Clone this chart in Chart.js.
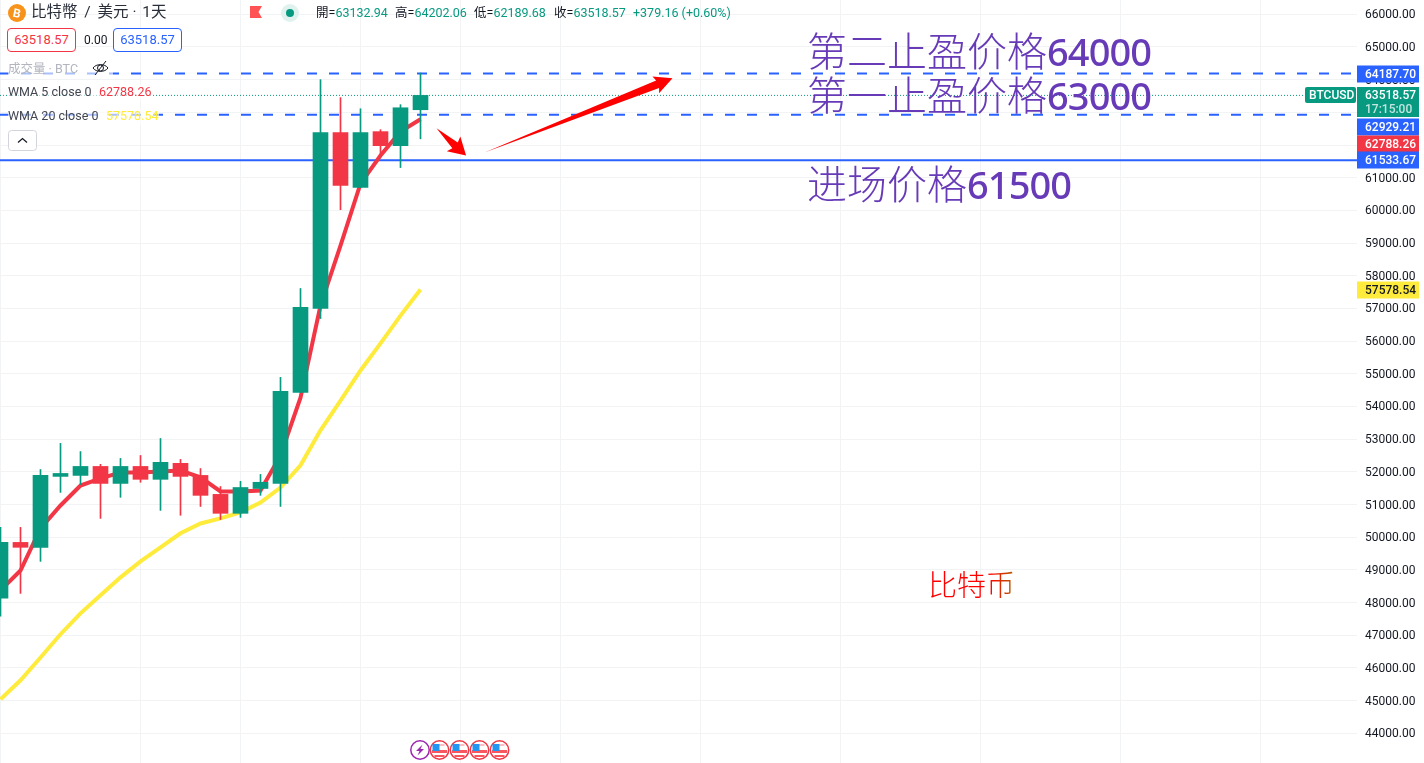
<!DOCTYPE html>
<html>
<head>
<meta charset="utf-8">
<title>比特幣 / 美元</title>
<script src="https://cdn.jsdelivr.net/npm/chart.js@4"></script>
<style>
	html, body { margin: 0; padding: 0; background: #fff; overflow: hidden; }
	#wrap { position: relative; width: 1424px; height: 763px; font-family: Roboto, "Noto Sans CJK TC", sans-serif; color: #131722; }
	canvas { position: absolute; left: 0; top: 0; }
	.t { position: absolute; white-space: nowrap; line-height: 1; }
	.g { color: #089981; }
	.veil { position: absolute; background: rgba(255, 255, 255, 0.6); }
	.box { position: absolute; box-sizing: border-box; height: 24px; width: 69px; border: 1px solid; border-radius: 4px; font-size: 13px; line-height: 22px; text-align: center; background: #fff; }
	.big { color: #673ab7; font-family: "Noto Sans CJK SC", sans-serif; font-weight: 300; font-size: 40px; }
	.big b { font-weight: 500; font-family: "Noto Sans", sans-serif; font-size: 38px; letter-spacing: -0.9px; }
	svg.i { position: absolute; overflow: visible; }
</style>
</head>
<body>
<div id="wrap">
	<canvas id="myChart" width="1424" height="763"></canvas>

	<svg class="i" style="left:8px;top:4px" width="18" height="18"><circle cx="9" cy="9" r="9" fill="#f7931a"/><text x="9" y="13.5" text-anchor="middle" font-size="12" font-weight="700" font-family="Roboto" fill="#fff" transform="rotate(12 9 9)">B</text></svg>
	<div class="t" style="left:31px;top:5px;font-size:15.5px;word-spacing:3px;color:#2a2e39">比特幣 / 美元<span style="word-spacing:0"> ·</span><span style="word-spacing:2px"> 1天</span></div>
	<svg class="i" style="left:250px;top:6px" width="13" height="12"><path d="M0 0H12L8.5 6L12 12H0Z" fill="#ff5252"/></svg>
	<svg class="i" style="left:281px;top:4px" width="18" height="18"><circle cx="9" cy="9" r="9" fill="#dff2ee"/><circle cx="9" cy="9" r="4" fill="#089981"/></svg>

	<div class="t" style="left:316px;top:7px;font-size:12.5px">開=<span class="g" id="hOpen"></span></div>
	<div class="t" style="left:395px;top:7px;font-size:12.5px">高=<span class="g" id="hHigh"></span></div>
	<div class="t" style="left:474px;top:7px;font-size:12.5px">低=<span class="g" id="hLow"></span></div>
	<div class="t" style="left:554px;top:7px;font-size:12.5px">收=<span class="g" id="hClose"></span></div>
	<div class="t g" style="left:633px;top:7px;font-size:12.5px" id="hChange"></div>

	<div class="box" style="left:7px;top:28px;color:#f23645;border-color:#f23645" id="bidBox"></div>
	<div class="t" style="left:84px;top:34px;font-size:12px">0.00</div>
	<div class="box" style="left:113px;top:28px;color:#2962ff;border-color:#2962ff" id="askBox"></div>

	<div class="veil" style="left:8px;top:60px;width:105px;height:18px"></div>
	<div class="veil" style="left:8px;top:84px;width:144px;height:17px"></div>
	<div class="veil" style="left:8px;top:108px;width:151px;height:17px"></div>
	<div class="t" style="left:8px;top:63px;font-size:12.5px;color:#b2b5be">成交量 · BTC</div>
	<svg class="i" style="left:92px;top:60px" width="17" height="16" fill="none" stroke="#131722" stroke-width="1"><path d="M1 8C4 3.5 13 3.5 16 8C13 12.5 4 12.5 1 8Z"/><circle cx="8.5" cy="8" r="3"/><path d="M14 1L3 15"/></svg>
	<div class="t" style="left:8px;top:86px;font-size:12.5px;color:#434651">WMA 5 close 0</div>
	<div class="t" style="left:99px;top:86px;font-size:12.5px;color:#f23645" id="wma5Text"></div>
	<div class="t" style="left:8px;top:110px;font-size:12.5px;color:#434651">WMA 20 close 0</div>
	<div class="t" style="left:106px;top:110px;font-size:12.5px;color:#ffeb3b" id="wma20Text"></div>
	<svg class="i" style="left:8px;top:130px" width="29" height="21"><rect x=".5" y=".5" width="28" height="20" rx="3" fill="#fff" stroke="#d1d4dc"/><path d="M10 12.5L14.5 8.5L19 12.5" fill="none" stroke="#131722" stroke-width="1.2"/></svg>

	<div class="t big" style="left:807px;top:29px">第二止盈价格<b>64000</b></div>
	<div class="t big" style="left:807px;top:73px">第一止盈价格<b>63000</b></div>
	<div class="t big" style="left:807px;top:162px">进场价格<b>61500</b></div>
	<div class="t" style="left:928px;top:569px;font-family:'Noto Sans CJK SC';font-weight:300;font-size:29px;background:linear-gradient(90deg,#ff0000 70%,#b06000);-webkit-background-clip:text;background-clip:text;color:transparent">比特币</div>

	<svg class="i" style="left:410px;top:740px" width="100" height="20">
		<defs>
			<g id="usFlag">
				<circle r="9.2" fill="#fff" stroke="#f23645" stroke-width="1.5"/>
				<path d="M-7.5 0H7.5V3H-7.5ZM-5 5H5V7H-5Z" fill="#f9575f"/>
				<path d="M-1 -6H5V-4H-1Z" fill="#f9c0c3"/>
				<rect x="-7" y="-6" width="7" height="7" fill="#2196f3"/>
			</g>
		</defs>
		<circle cx="10" cy="10" r="9.2" fill="#fff" stroke="#9c27b0" stroke-width="1.5"/>
		<path d="M12.5 4.5L6 11H9.5L7.5 15.5L14 9H10.5Z" fill="#9c27b0"/>
		<use href="#usFlag" x="29.5" y="10"/>
		<use href="#usFlag" x="49.5" y="10"/>
		<use href="#usFlag" x="69.5" y="10"/>
		<use href="#usFlag" x="89.5" y="10"/>
	</svg>
</div>

<script>
// candles, one per day
const opens = [48130, 49840, 49690, 51860, 51890, 52165, 51645, 52165, 51770, 52260, 51890, 51310, 50730, 51490, 51645, 54430, 57000, 62380, 60700, 62410, 61980, 63080];
const closes = [49840, 49690, 51890, 51950, 52165, 51645, 52165, 51770, 52290, 51860, 51280, 50730, 51520, 51680, 54460, 57030, 62380, 60760, 62380, 61980, 63140, 63518.57];
const highs = [50300, 50300, 52070, 52870, 52620, 52230, 52410, 52500, 53020, 52380, 52100, 51550, 51710, 51920, 54890, 57610, 64000, 63450, 63110, 62470, 63235, 64202.06];
const lows = [47580, 48280, 49260, 51370, 51610, 50575, 51220, 51680, 50820, 50670, 50940, 50540, 50605, 51280, 50940, 54430, 56690, 60020, 60700, 61680, 61310, 62189.68];

// moving averages
const wma5 = [48370, 48980, 50270, 50970, 51580, 51800, 51980, 51980, 52010, 52040, 51830, 51400, 51400, 51430, 52500, 54270, 57090, 58920, 60820, 61680, 62410, 62788.26];
const wma20 = [45040, 45620, 46320, 47030, 47670, 48220, 48770, 49260, 49690, 50120, 50420, 50575, 50760, 51060, 51520, 52200, 53270, 54180, 55100, 55930, 56780, 57578.54];

// horizontal levels
const lastPrice = 63518.57;
const takeProfit2 = 64187.7;
const takeProfit1 = 62929.21;
const entryPrice = 61533.67;

// ticks
const priceTicks = [44000, 45000, 46000, 47000, 48000, 49000, 50000, 51000, 52000, 53000, 54000, 55000, 56000, 57000, 58000, 59000, 60000, 61000, 62000, 63000, 64000, 65000, 66000];
const dayTicks = [0, 7, 12, 18, 23, 28, 35, 42, 49, 56, 63];

// hand drawn arrows: [day, price] tail and tip
const arrowUpTail = [24.2, 61770];
const arrowUpTip = [33.6, 64040];
const arrowDownTail = [21.8, 62510];
const arrowDownTip = [23.28, 61680];

// header
document.getElementById("hOpen").textContent = "63132.94";
document.getElementById("hHigh").textContent = "64202.06";
document.getElementById("hLow").textContent = "62189.68";
document.getElementById("hClose").textContent = "63518.57";
document.getElementById("hChange").textContent = "+379.16 (+0.60%)";
document.getElementById("bidBox").textContent = "63518.57";
document.getElementById("askBox").textContent = "63518.57";
document.getElementById("wma5Text").textContent = "62788.26";
document.getElementById("wma20Text").textContent = "57578.54";

const UP = "#089981";
const DOWN = "#f23645";
const BLUE = "#2962ff";
const GRID = "#f2f3f5";
const FONT = "Roboto, sans-serif";

const xMin = -0.025;
const xMax = 67.825;

const candleColors = opens.map((o, i) => (closes[i] >= o ? UP : DOWN));

function hLine(value, color, width, dash, offset, end) {
	return {
		type: "line",
		data: [
			{ x: xMin, y: value },
			{ x: end, y: value },
		],
		borderColor: color,
		borderWidth: width,
		borderDash: dash,
		borderDashOffset: offset,
		pointRadius: 0,
		order: 6,
	};
}

function maLine(values, color) {
	return {
		type: "line",
		data: values.map((v, i) => ({ x: i, y: v })),
		borderColor: color,
		borderWidth: 4,
		pointRadius: 0,
		tension: 0,
		order: 5,
	};
}

// tapered arrow with a head, ends are read through the scales
function drawArrow(chart, tail, tip, headLen, headHalf, neckHalf) {
	const x = chart.scales.x;
	const y = chart.scales.y;
	const x0 = x.getPixelForValue(tail[0]);
	const y0 = y.getPixelForValue(tail[1]);
	const x1 = x.getPixelForValue(tip[0]);
	const y1 = y.getPixelForValue(tip[1]);
	const len = Math.hypot(x1 - x0, y1 - y0);
	const ux = (x1 - x0) / len;
	const uy = (y1 - y0) / len;
	const nx = x1 - ux * (headLen - 2);
	const ny = y1 - uy * (headLen - 2);
	const bx = x1 - ux * headLen;
	const by = y1 - uy * headLen;
	const ctx = chart.ctx;
	ctx.save();
	ctx.fillStyle = "#ff0000";
	ctx.beginPath();
	ctx.moveTo(x0, y0);
	ctx.lineTo(nx + uy * neckHalf, ny - ux * neckHalf);
	ctx.lineTo(bx + uy * headHalf, by - ux * headHalf);
	ctx.lineTo(x1, y1);
	ctx.lineTo(bx - uy * headHalf, by + ux * headHalf);
	ctx.lineTo(nx - uy * neckHalf, ny + ux * neckHalf);
	ctx.closePath();
	ctx.fill();
	ctx.restore();
}

function priceTag(chart, label, value, shift, bg, fg) {
	const ctx = chart.ctx;
	const left = chart.chartArea.right;
	const cy = Math.round(chart.scales.y.getPixelForValue(value)) + shift;
	ctx.save();
	ctx.fillStyle = bg;
	ctx.fillRect(left, cy - 8.5, 62, 17);
	ctx.fillStyle = fg;
	ctx.font = "500 12px " + FONT;
	ctx.textBaseline = "middle";
	ctx.fillText(label, left + 8, cy + 0.5);
	ctx.restore();
}

const overlay = {
	id: "overlay",
	afterDatasetsDraw(chart) {
		drawArrow(chart, arrowUpTail, arrowUpTip, 18, 9, 4);
		drawArrow(chart, arrowDownTail, arrowDownTip, 17, 10, 4);
	},
	afterDraw(chart) {
		const ctx = chart.ctx;
		const left = chart.chartArea.right;
		const cy = Math.round(chart.scales.y.getPixelForValue(lastPrice));

		priceTag(chart, "64187.70", takeProfit2, 0, BLUE, "#fff");
		priceTag(chart, "62929.21", takeProfit1, 12, BLUE, "#fff");
		priceTag(chart, "62788.26", wma5[wma5.length - 1], 25, DOWN, "#fff");
		priceTag(chart, "61533.67", entryPrice, 0, BLUE, "#fff");
		priceTag(chart, "57578.54", wma20[wma20.length - 1], 0, "#ffeb3b", "#131722");

		// last price with countdown and symbol
		ctx.save();
		ctx.fillStyle = UP;
		ctx.fillRect(left, cy - 8, 62, 30);
		ctx.beginPath();
		ctx.roundRect(left - 52, cy - 8, 51, 16, 2);
		ctx.fill();
		ctx.textBaseline = "middle";
		ctx.font = "500 12px " + FONT;
		ctx.fillStyle = "#fff";
		ctx.fillText("63518.57", left + 8, cy + 0.5);
		ctx.fillText("BTCUSD", left - 48, cy + 0.5);
		ctx.fillStyle = "rgba(255,255,255,0.75)";
		ctx.fillText("17:15:00", left + 8, cy + 14.5);
		ctx.restore();
	},
};

const config = {
	type: "bar",
	data: {
		datasets: [
			{
				data: highs.map((h, i) => ({ x: i, y: [lows[i], h] })),
				backgroundColor: candleColors,
				barThickness: 1,
				grouped: false,
				order: 3,
			},
			{
				data: opens.map((o, i) => ({ x: i, y: [o, closes[i]] })),
				backgroundColor: candleColors,
				barThickness: 15,
				grouped: false,
				order: 2,
			},
			maLine(wma5, DOWN),
			maLine(wma20, "#ffeb3b"),
			hLine(takeProfit2, BLUE, 2, [10, 12], 1, xMax),
			hLine(takeProfit1, BLUE, 2, [10, 12], 1, xMax),
			hLine(entryPrice, BLUE, 2, [], 0, xMax),
			hLine(lastPrice, UP, 1, [1, 2], 0, 65.2),
		],
	},
	options: {
		responsive: false,
		animation: false,
		devicePixelRatio: 1,
		layout: { padding: 0 },
		plugins: {
			legend: { display: false },
			tooltip: { enabled: false },
		},
		scales: {
			x: {
				type: "linear",
				min: xMin,
				max: xMax,
				offset: false,
				grid: { offset: false, color: GRID, drawTicks: false },
				border: { display: false },
				ticks: { display: false, autoSkip: false },
				afterBuildTicks(scale) {
					scale.ticks = dayTicks.map((v) => ({ value: v }));
				},
				afterFit(scale) {
					scale.height = 0;
				},
			},
			y: {
				position: "right",
				min: 43090,
				max: 66437.6,
				grid: { color: GRID, drawTicks: false },
				border: { display: false },
				ticks: {
					autoSkip: false,
					padding: 8,
					labelOffset: 1,
					color: "#131722",
					font: { size: 12, family: FONT },
					callback: function (value) {
						return value.toFixed(2);
					},
				},
				afterBuildTicks(scale) {
					scale.ticks = priceTicks.map((v) => ({ value: v }));
				},
				afterFit(scale) {
					scale.width = 67;
					// plot runs to the top and bottom of the canvas
					scale.paddingTop = 0;
					scale.paddingBottom = 0;
				},
			},
		},
	},
	plugins: [overlay],
};

const myChart = new Chart(document.getElementById("myChart"), config);
</script>
</body>
</html>
